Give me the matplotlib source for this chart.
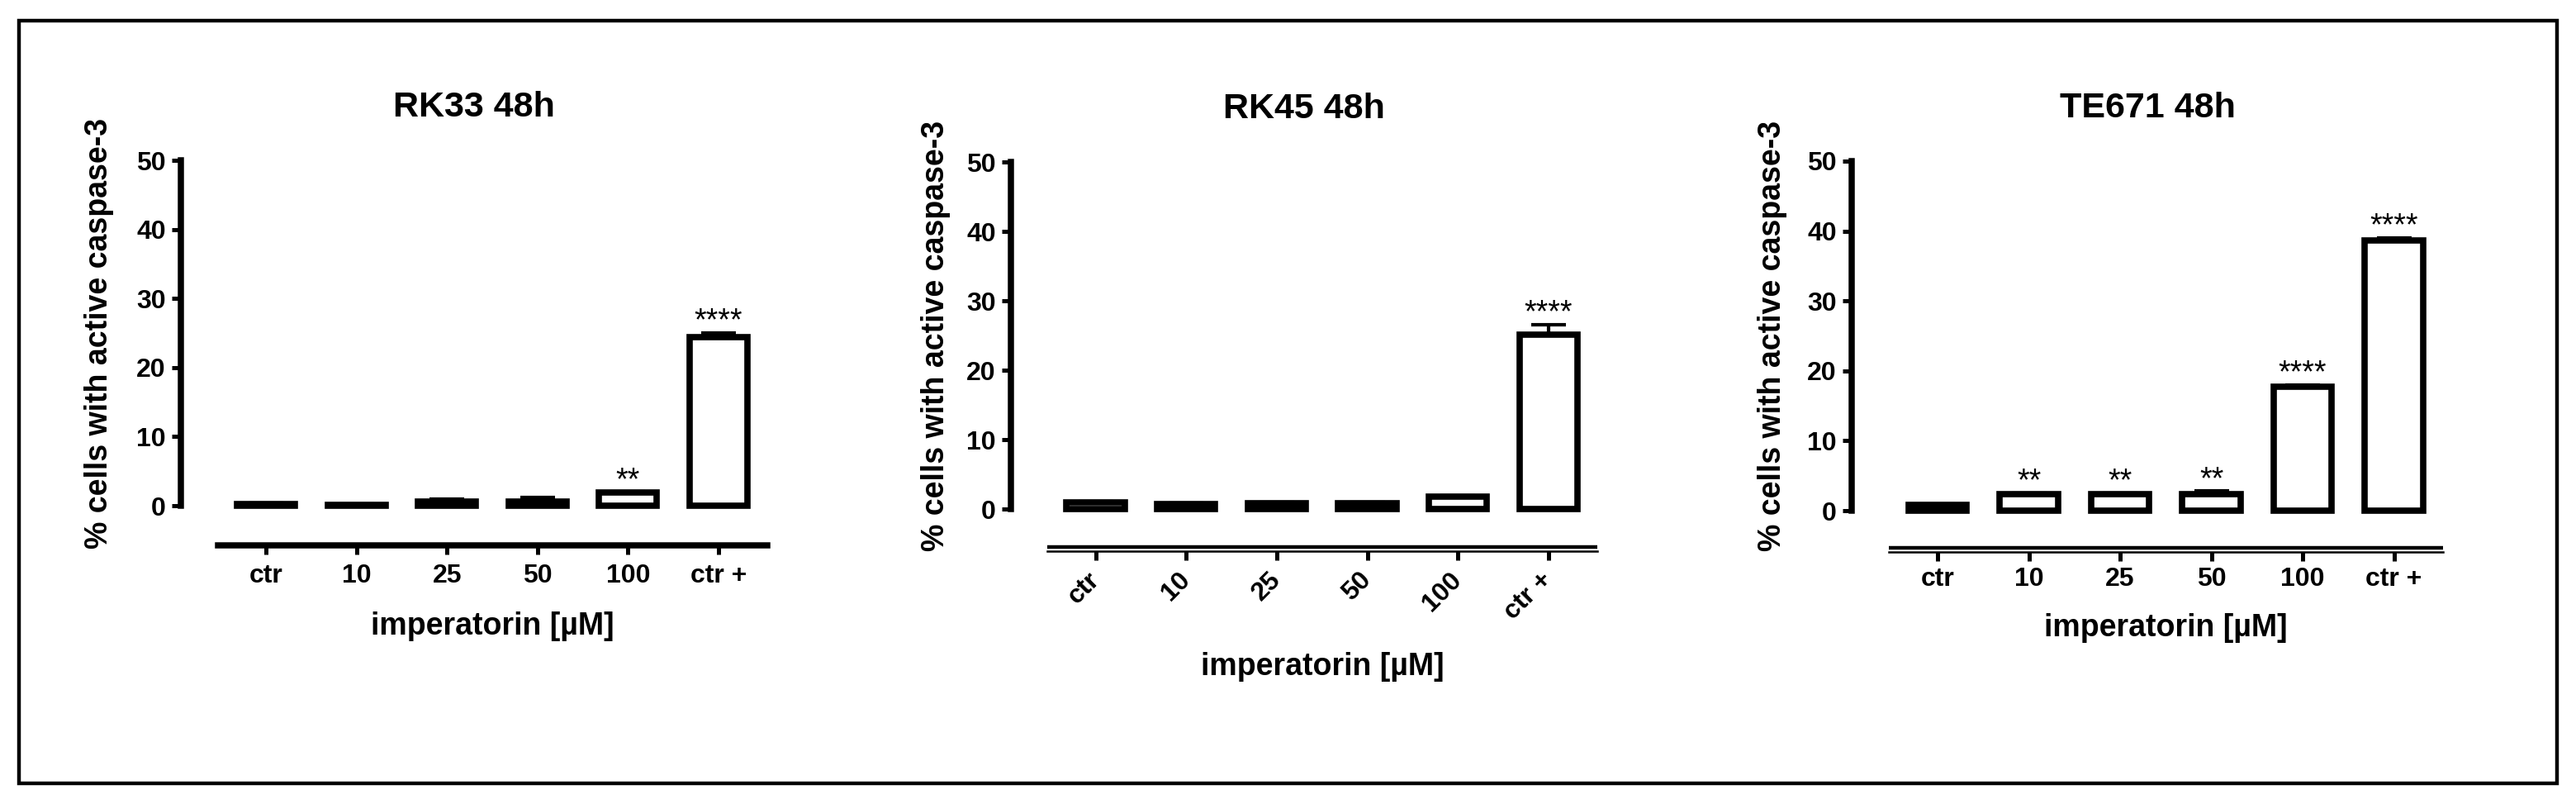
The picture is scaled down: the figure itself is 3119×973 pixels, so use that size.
import matplotlib.pyplot as plt

plt.rcParams['font.family'] = ['Liberation Sans', 'DejaVu Sans']

# donnees
categories = ['ctr', '10', '25', '50', '100', 'ctr +']
titres = ['RK33 48h', 'RK45 48h', 'TE671 48h']

rk33_moy = [0.2, 0.15, 0.6, 0.65, 1.9, 24.4]
rk33_err = [0.1, 0.1, 0.35, 0.6, 0.1, 0.6]
rk33_etoiles = ['', '', '', '', '**', '****']

rk45_moy = [1.0, 0.75, 0.85, 0.85, 1.75, 25.1]
rk45_err = [0.1, 0.1, 0.1, 0.1, 0.1, 1.5]
rk45_etoiles = ['', '', '', '', '', '****']

te671_moy = [0.8, 2.4, 2.4, 2.4, 17.7, 38.6]
te671_err = [0.1, 0.1, 0.1, 0.4, 0.3, 0.4]
te671_etoiles = ['', '**', '**', '**', '****', '****']

moyennes = [rk33_moy, rk45_moy, te671_moy]
erreurs = [rk33_err, rk45_err, te671_err]
etoiles = [rk33_etoiles, rk45_etoiles, te671_etoiles]

W, H = 3119, 973
fig = plt.figure(figsize=(W / 100, H / 100), dpi=100)

# cadre noir autour de la figure
cadre = plt.Rectangle((23 / W, 1 - 948 / H), (3096 - 23) / W, (948 - 25) / H,
                      fill=False, lw=3.2, edgecolor='black', transform=fig.transFigure)
fig.add_artist(cadre)

# position en pixels : axe y, 1er tick x, pas, y du 0, y du 50, y de l'axe x, double trait, xlabel y, ylabel x
mise_en_page = [
    (219, 322, 109.6, 612, 194, 660, False, 758, 120),
    (1224, 1326.5, 109.7, 616, 196, 667, True, 807, 1133),
    (2242, 2346, 110.5, 618, 195, 668, True, 760, 2146),
]

for k in range(3):
    ax_x, t0, dx, y0, y50, yx, double, xl_y, yl_x = mise_en_page[k]
    ppu = (y0 - y50) / 50
    ybas = -(yx - y0) / ppu
    xg = (ax_x - t0) / dx
    xd = 5.54
    droite_px = t0 + xd * dx
    ax = fig.add_axes([ax_x / W, 1 - yx / H, (droite_px - ax_x) / W, (yx - y50) / H])
    ax.set_xlim(xg, xd)
    ax.set_ylim(ybas, 50)

    x = range(len(categories))
    ax.errorbar(x, moyennes[k], yerr=[[0] * 6, erreurs[k]], fmt='none', ecolor='black',
                elinewidth=3, capsize=15, capthick=3, zorder=1)
    ax.bar(x, moyennes[k], width=0.64, color='white', edgecolor='black', linewidth=5.5, zorder=2)

    for i in x:
        if etoiles[k][i]:
            ax.text(i, moyennes[k][i] + erreurs[k][i] + 0.4, etoiles[k][i], ha='center',
                    va='baseline', fontsize=27)

    ax.spines['top'].set_visible(False)
    ax.spines['right'].set_visible(False)
    ax.spines['left'].set_bounds(0, 50)
    ax.spines['left'].set_linewidth(5.4)
    ax.spines['bottom'].set_bounds(-0.53, 5.54)
    if double:
        ax.spines['bottom'].set_linewidth(1.8)
        ax.plot([-0.53, 5.54], [ybas + 5.5 / ppu] * 2, color='black', lw=3.2,
                clip_on=False, solid_capstyle='butt')
    else:
        ax.spines['bottom'].set_linewidth(5.4)

    ax.set_yticks([0, 10, 20, 30, 40, 50])
    ax.set_xticks(list(x))
    ax.tick_params(axis='both', width=3.6, length=8, direction='out')
    ax.tick_params(axis='y', pad=5, labelsize=23)
    for lab in ax.get_yticklabels():
        lab.set_fontweight('bold')
    if k == 1:
        ax.set_xticklabels(categories, rotation=45, ha='right', rotation_mode='anchor',
                           fontsize=23, fontweight='bold', va='center')
        ax.tick_params(axis='x', pad=14)
    else:
        ax.set_xticklabels(categories, fontsize=23, fontweight='bold')
        ax.tick_params(axis='x', pad=8 if k == 0 else 5)

    ax.set_title(titres[k], fontsize=31, fontweight='bold', pad=38)

    ax.set_xlabel('imperatorin [µM]', fontsize=27, fontweight='bold', va='center')
    ax.xaxis.set_label_coords((2.505 - xg) / (xd - xg), (yx - xl_y) / (yx - y50))
    ax.set_ylabel('% cells with active caspase-3', fontsize=27, fontweight='bold', va='center')
    ax.yaxis.set_label_coords((yl_x - ax_x) / (droite_px - ax_x), (25 - ybas) / (50 - ybas))

plt.savefig('out.png', dpi=100)
